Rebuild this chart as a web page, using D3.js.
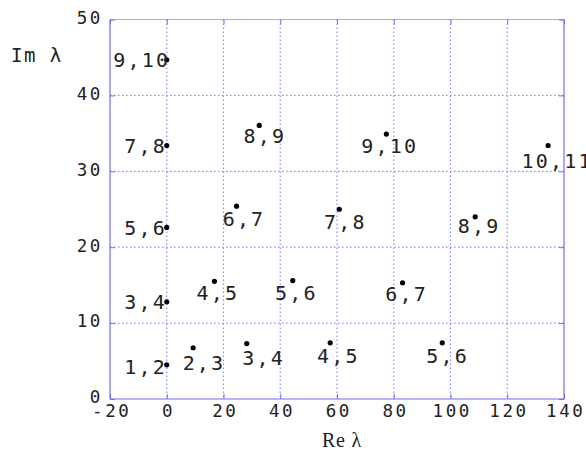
<!DOCTYPE html>
<html>
<head>
<meta charset="utf-8">
<script src="https://cdn.jsdelivr.net/npm/d3@7"></script>
<style>
  body { margin: 0; background: #fff; }
  svg { display: block; }
</style>
</head>
<body>
<svg id="chart" width="586" height="453"></svg>
<script>
// ---- data ----
const reValues = [0, 0, 0, 0, 0, 9.3, 28.2, 57.6, 97.1, 16.8, 44.4, 83.1, 24.6, 60.8, 108.7, 32.6, 77.4, 134.4];
const imValues = [4.5, 12.8, 22.6, 33.4, 44.7, 6.75, 7.3, 7.4, 7.4, 15.5, 15.6, 15.3, 25.4, 25.0, 24.0, 36.05, 34.9, 33.4];
const pointLabels = ["1,2", "3,4", "5,6", "7,8", "9,10", "2,3", "3,4", "4,5", "5,6", "4,5", "5,6", "6,7", "6,7", "7,8", "8,9", "8,9", "9,10", "10,11"];
const xTicks = [-20, 0, 20, 40, 60, 80, 100, 120, 140];
const yTicks = [0, 10, 20, 30, 40, 50];
const xTitle = "Re λ";
const yTitle = "Im λ";

// ---- layout (label offsets in pixels: left edge dx, vertical centre dy) ----
const labelDx = [-41, -41, -41, -41, -52, -9, -3, -11.6, -14.6, -16.4, -16.3, -15.7, -12.4, -13.7, -16, -14.3, -23.6, -25];
const labelDy = [2, 0, 0, 0, 0, 15, 14, 13, 13, 11, 12, 11, 12.3, 12.4, 9, 10.5, 12, 15.5];

const svg = d3.select("#chart");
const mLeft = 110, mRight = 564, mTop = 19.5, mBottom = 399;
const x = d3.scaleLinear().domain([-20, 140]).range([mLeft, mRight]);
const y = d3.scaleLinear().domain([0, 50]).range([mBottom, mTop]);

const axisColor = "#6f6ff0";
const gridColor = "#8c8cf2";
const mono = "'DejaVu Sans Mono', monospace";

// grid
const grid = svg.append("g");
grid.selectAll("line.gx").data(xTicks.slice(1, -1)).enter().append("line")
  .attr("x1", d => x(d)).attr("x2", d => x(d))
  .attr("y1", mTop).attr("y2", mBottom)
  .attr("stroke", gridColor).attr("stroke-width", 1.2)
  .attr("stroke-dasharray", "1.5,2.5");
grid.selectAll("line.gy").data(yTicks.slice(1, -1)).enter().append("line")
  .attr("x1", mLeft).attr("x2", mRight)
  .attr("y1", d => y(d)).attr("y2", d => y(d))
  .attr("stroke", gridColor).attr("stroke-width", 1.2)
  .attr("stroke-dasharray", "1.5,2.5");

// frame
svg.append("line").attr("x1", mLeft).attr("x2", mRight).attr("y1", mTop).attr("y2", mTop)
  .attr("stroke", "#a8a8f4").attr("stroke-width", 1.2);
svg.append("line").attr("x1", mLeft).attr("x2", mLeft).attr("y1", mTop).attr("y2", mBottom)
  .attr("stroke", axisColor).attr("stroke-width", 1.2);
svg.append("line").attr("x1", mLeft).attr("x2", mRight).attr("y1", mBottom).attr("y2", mBottom)
  .attr("stroke", axisColor).attr("stroke-width", 1.2);
svg.append("line").attr("x1", mRight).attr("x2", mRight).attr("y1", mTop).attr("y2", mBottom)
  .attr("stroke", axisColor).attr("stroke-width", 1.2);

// axes with inward ticks
const xAxis = d3.axisBottom(x).tickValues(xTicks).tickSize(-5).tickPadding(6).tickFormat(d3.format("d"));
const gx = svg.append("g").attr("transform", `translate(0,${mBottom})`).call(xAxis);
gx.select(".domain").remove();
gx.selectAll(".tick line").attr("stroke", axisColor);
gx.selectAll(".tick text")
  .attr("fill", "#222").attr("font-family", mono).attr("font-size", 17.5)
  .attr("letter-spacing", "2.6px").attr("dx", "1.3px")
  .text(d => d < 0 ? "-" + Math.abs(d) : d);

const gxTop = svg.append("g").attr("transform", `translate(0,${mTop})`)
  .call(d3.axisTop(x).tickValues(xTicks).tickSize(-5).tickFormat(""));
gxTop.select(".domain").remove();
gxTop.selectAll(".tick line").attr("stroke", axisColor);

const yAxis = d3.axisLeft(y).tickValues(yTicks).tickSize(-5).tickPadding(9).tickFormat(d3.format("d"));
const gy = svg.append("g").attr("transform", `translate(${mLeft},0)`).call(yAxis);
gy.select(".domain").remove();
gy.selectAll(".tick line").attr("stroke", axisColor);
gy.selectAll(".tick text")
  .attr("fill", "#222").attr("font-family", mono).attr("font-size", 17.5)
  .attr("letter-spacing", "2.6px").attr("dx", "2px").attr("dy", "0.22em");

const gyRight = svg.append("g").attr("transform", `translate(${mRight},0)`)
  .call(d3.axisRight(y).tickValues(yTicks).tickSize(-5).tickFormat(""));
gyRight.select(".domain").remove();
gyRight.selectAll(".tick line").attr("stroke", axisColor);

// axis titles
svg.append("text").attr("x", 11).attr("y", 55).attr("dy", "0.36em")
  .attr("font-family", mono).attr("font-size", 19).attr("letter-spacing", "1.5px")
  .attr("fill", "#222").text(yTitle);
svg.append("text").attr("x", 342).attr("y", 440).attr("dy", "0.35em")
  .attr("text-anchor", "middle")
  .attr("font-family", "'Liberation Serif', serif").attr("font-size", 20)
  .attr("letter-spacing", "0.8px")
  .attr("fill", "#222").text(xTitle);

// points
const idx = d3.range(reValues.length);
svg.append("g").selectAll("circle").data(idx).enter().append("circle")
  .attr("cx", i => x(reValues[i])).attr("cy", i => y(imValues[i]))
  .attr("r", 2.6).attr("fill", "#000");

// point labels
svg.append("g").selectAll("text").data(idx).enter().append("text")
  .attr("x", i => x(reValues[i]) + labelDx[i] - 1.5)
  .attr("y", i => y(imValues[i]) + labelDy[i])
  .attr("dy", "0.36em")
  .attr("font-family", mono).attr("font-size", 20)
  .attr("letter-spacing", "2.2px")
  .attr("fill", "#222")
  .text(i => pointLabels[i]);
</script>
</body>
</html>
